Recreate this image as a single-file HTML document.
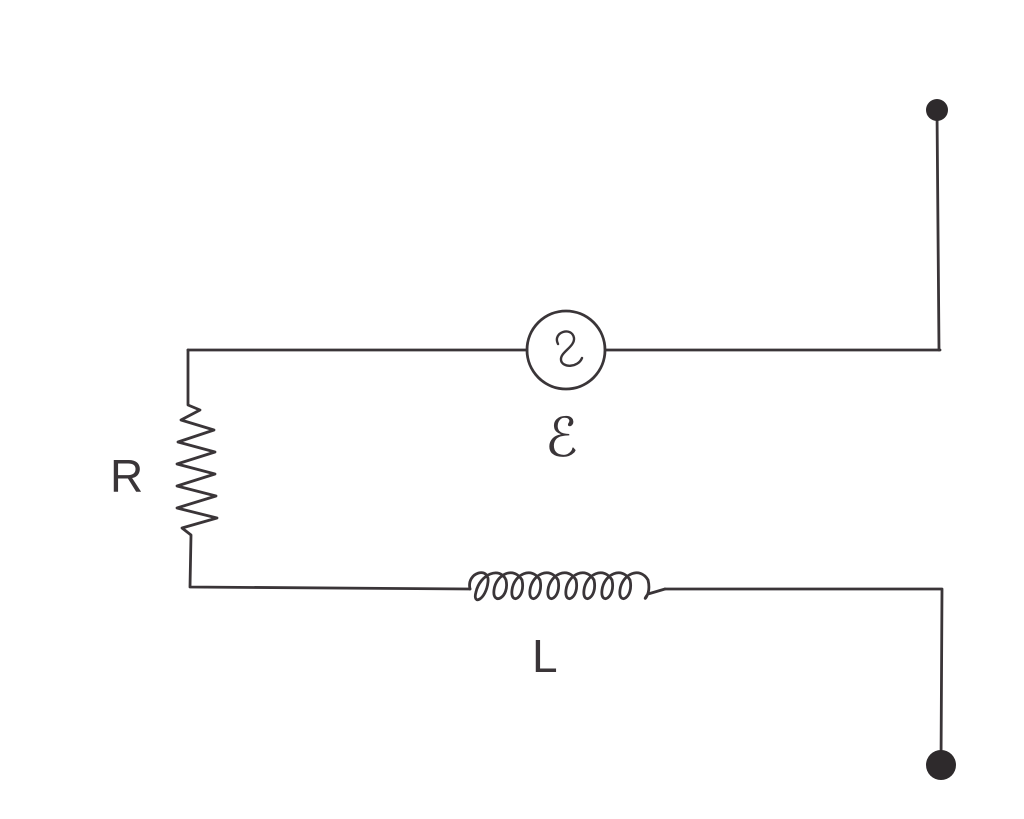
<!DOCTYPE html>
<html><head><style>html,body{margin:0;padding:0;background:#fff;width:1024px;height:819px;overflow:hidden}</style></head>
<body>
<svg width="1024" height="819" viewBox="0 0 1024 819" xmlns="http://www.w3.org/2000/svg">
<g stroke="#3a3538" stroke-width="2.8" fill="none" stroke-linecap="round" stroke-linejoin="round">
<path d="M188 350 L527 350"/>
<path d="M606 350 L940 350"/>
<path d="M937 110 L939 350"/>
<circle cx="566" cy="350" r="39"/>
<path d="M558 344 C552 332 572 326 574 338 C575 347 560 352 561 360 C562 368 578 368 582 358" stroke-width="2.4"/>
<path d="M188 350 L188 405 L200 410 L181 420 L214 430 L178 442 L215 452 L177 464 L215 474 L177 486 L216 496 L177 508 L217 518 L182 528 L191 535 L190 587 L470 589"/>
<path d="M470 589 C466 572 490 566 488 582 C486 600 472 606 476 592 C480 574 500 566 506 580 C510 598 492 606 494 590 C496 574 514 566 522 580 C526 598 510 606 512 590 C514 574 532 566 540 580 C544 598 528 606 530 590 C532 574 550 566 558 580 C562 598 546 606 548 590 C550 574 568 566 576 580 C580 598 564 606 566 590 C568 574 586 566 594 580 C598 598 582 606 584 590 C586 574 604 566 612 580 C616 598 600 606 602 590 C604 574 622 566 630 580 C634 598 618 606 620 590 C622 574 640 566 648 580 C652 596 640 604 648 594 L665 589"/>
<path d="M665 589 L942 589 L941 765"/>
</g>
<circle cx="937" cy="110" r="11" fill="#2e2a2c"/>
<circle cx="941" cy="765" r="15" fill="#2e2a2c"/>
<g font-family="'Liberation Sans', 'DejaVu Sans', sans-serif" fill="#3a3538" font-weight="normal">
<text x="110" y="492" font-size="46">R</text>
<text x="545" y="456" font-size="54" font-family="'DejaVu Sans', sans-serif">ℰ</text>
<text x="532" y="672" font-size="46">L</text>
</g>
</svg>
</body></html>
